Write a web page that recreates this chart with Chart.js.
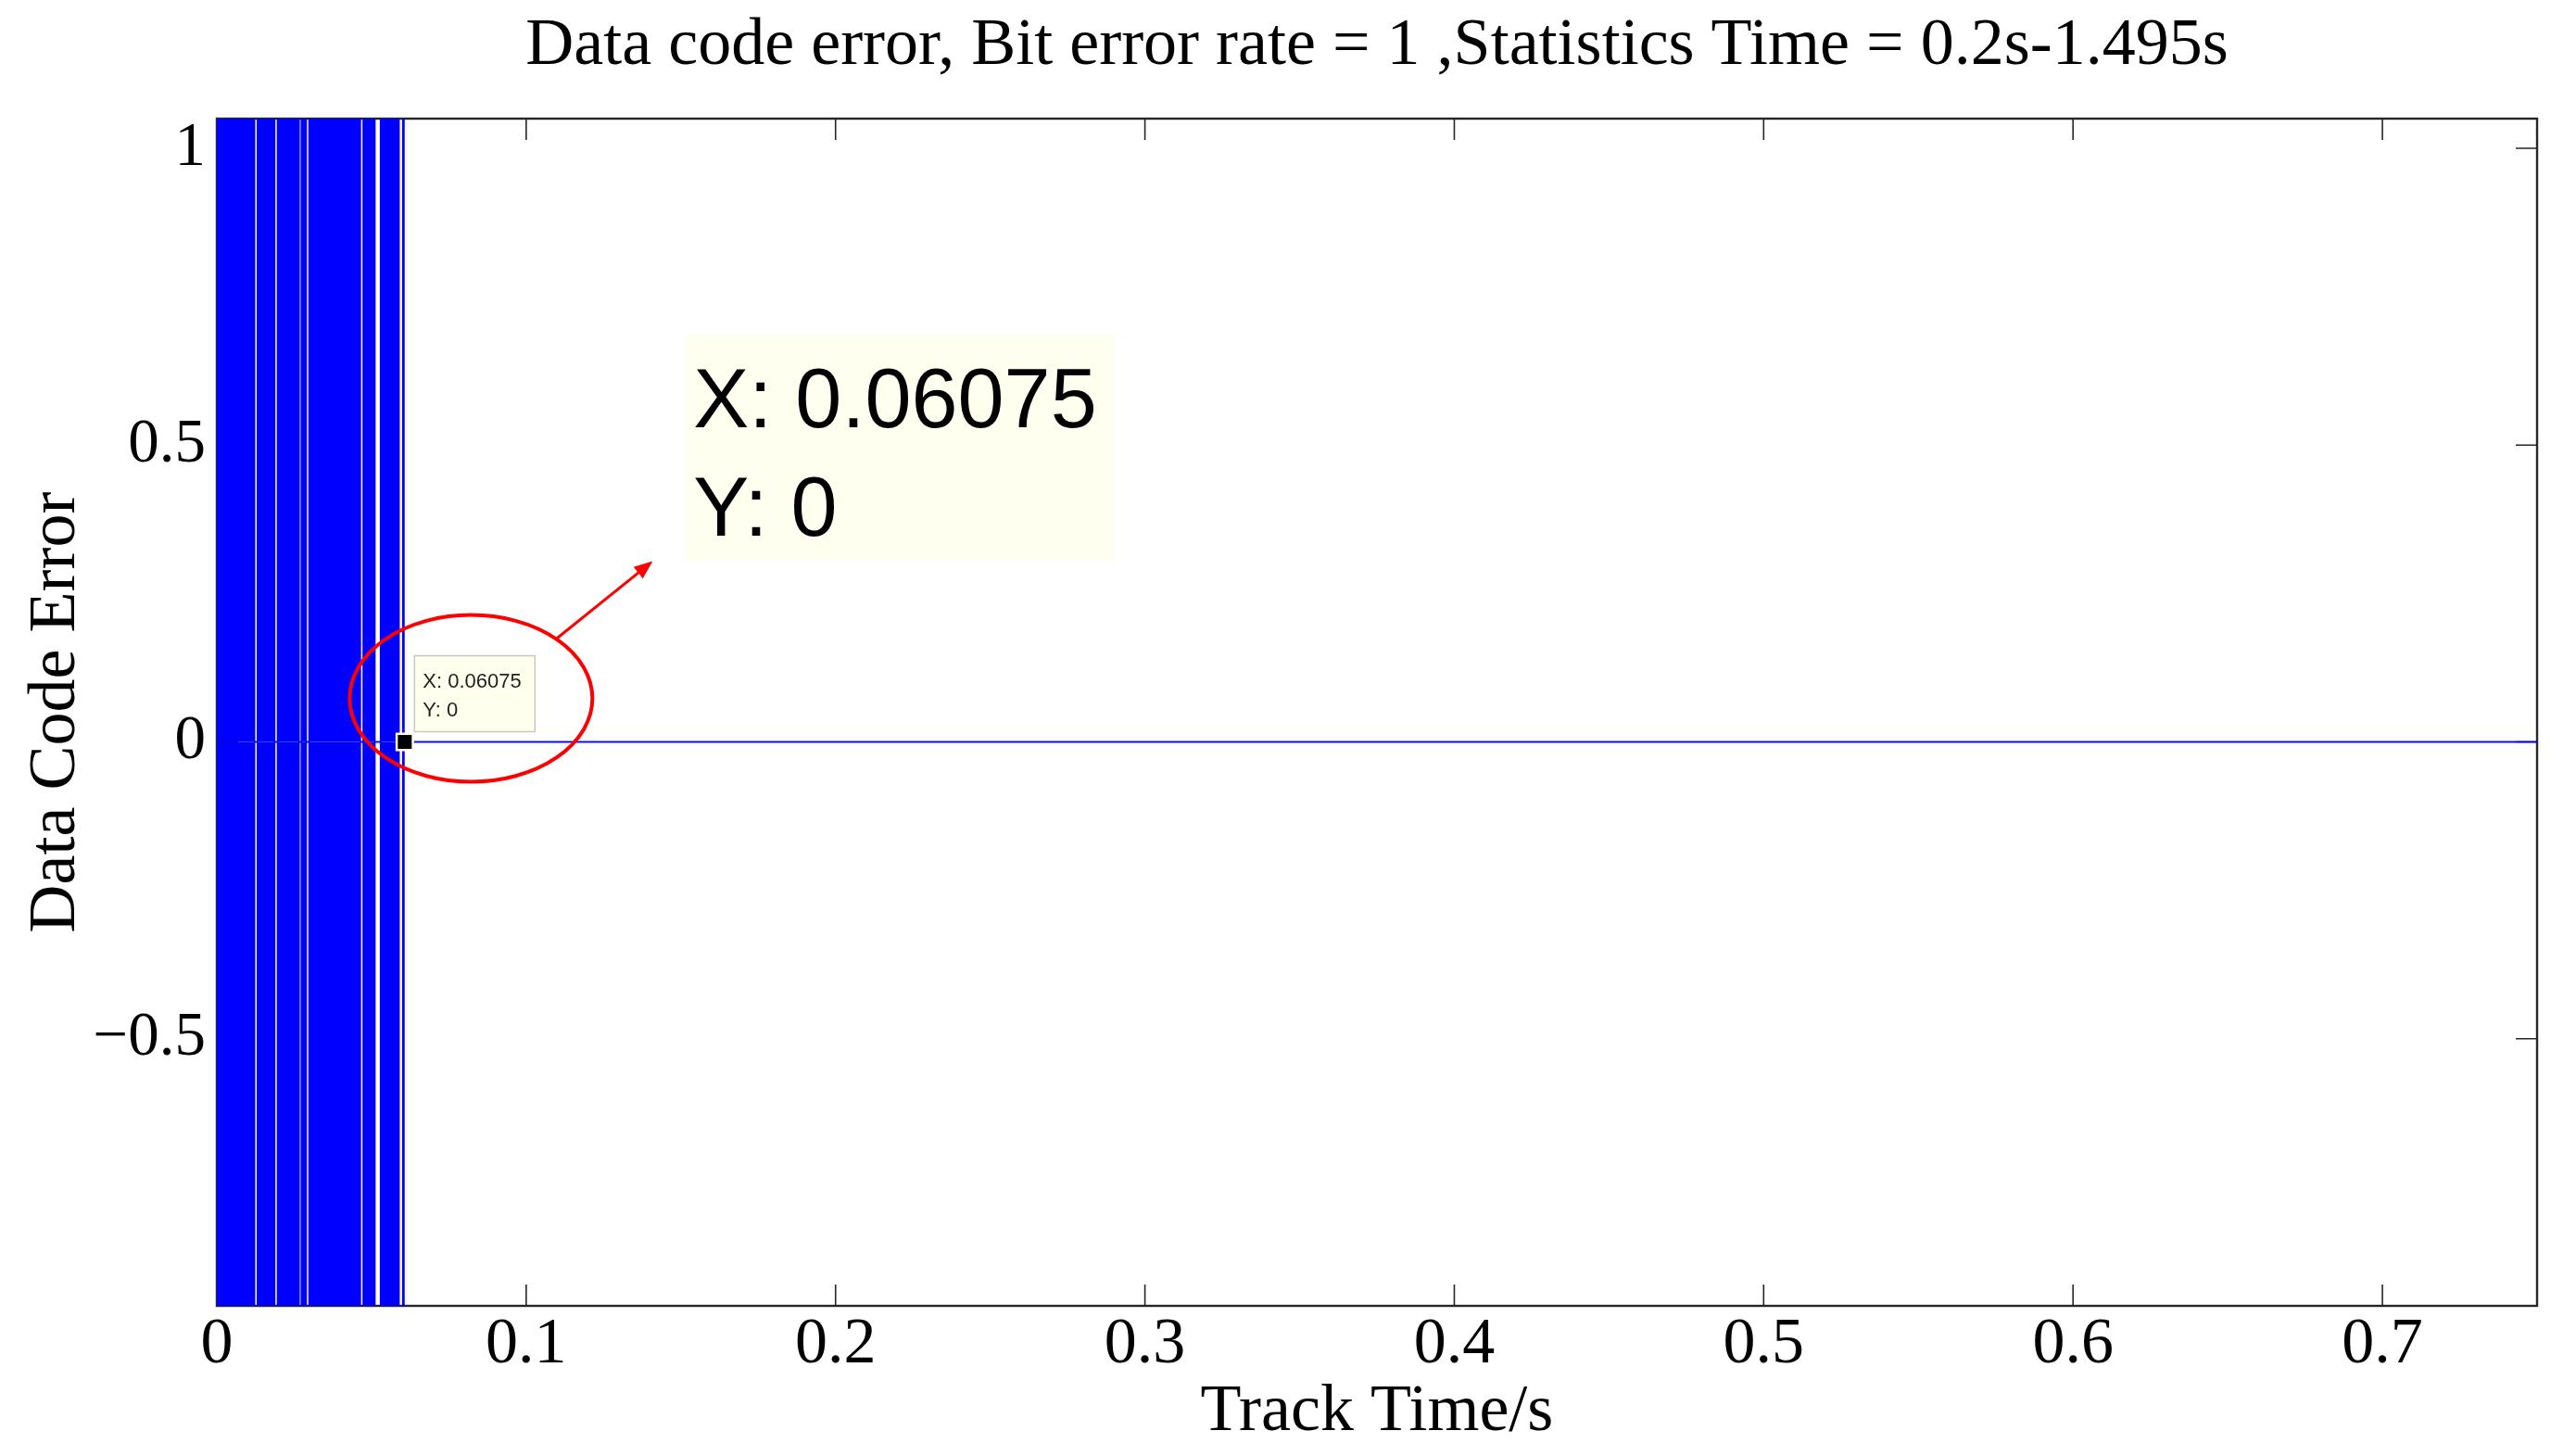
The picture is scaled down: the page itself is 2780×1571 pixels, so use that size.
<!DOCTYPE html>
<html>
<head>
<meta charset="utf-8">
<script src="https://cdn.jsdelivr.net/npm/chart.js@4.4.1/dist/chart.umd.min.js"></script>
<style>
  html, body { margin: 0; padding: 0; background: #fff; }
  #wrap { width: 2780px; height: 1571px; position: relative; }
</style>
</head>
<body>
<div id="wrap"><canvas id="errChart"></canvas></div>
<script>
const chartTitle = 'Data code error, Bit error rate = 1 ,Statistics Time = 0.2s-1.495s';
const xLabel = 'Track Time/s';
const yLabel = 'Data Code Error';

const xTicks = [0, 0.1, 0.2, 0.3, 0.4, 0.5, 0.6, 0.7];
const yTicks = [-0.5, 0, 0.5, 1];
const xRange = [0, 0.75];
const yRange = [-0.95, 1.05];

// spans where the error keeps flipping between +2 and -2 (reads as solid blue)
const burstStart = [0.0000, 0.0131, 0.0196, 0.0273, 0.0298, 0.0473, 0.0529, 0.0601];
const burstEnd   = [0.0122, 0.0187, 0.0266, 0.0289, 0.0464, 0.0511, 0.0589, 0.0605];
const burstLevel = 2;
const endTime = 0.75;

// data tip
const tipX = 0.06075;
const tipY = 0;

function envelope(sign) {
  const pts = [];
  for (let i = 0; i < burstStart.length; i++) {
    pts.push({x: burstStart[i], y: 0});
    pts.push({x: burstStart[i], y: sign * burstLevel});
    pts.push({x: burstEnd[i], y: sign * burstLevel});
    pts.push({x: burstEnd[i], y: 0});
  }
  pts.push({x: endTime, y: 0});
  return pts;
}

function tickText(v) {
  if (v < 0) return '\u2212' + Math.abs(v);
  return String(v);
}

const frame = {
  id: 'frame',
  beforeDatasetsDraw(chart) {
    const {ctx, chartArea: a, scales: {x, y}} = chart;
    ctx.save();
    ctx.strokeStyle = '#262626';
    ctx.lineWidth = 1.6;
    ctx.beginPath();
    xTicks.forEach(v => {
      const px = x.getPixelForValue(v);
      ctx.moveTo(px, a.bottom); ctx.lineTo(px, a.bottom - 23);
      ctx.moveTo(px, a.top); ctx.lineTo(px, a.top + 23);
    });
    yTicks.forEach(v => {
      const py = y.getPixelForValue(v);
      ctx.moveTo(a.left, py); ctx.lineTo(a.left + 23, py);
      ctx.moveTo(a.right, py); ctx.lineTo(a.right - 23, py);
    });
    ctx.stroke();
    ctx.lineWidth = 2.4;
    ctx.strokeRect(a.left, a.top, a.right - a.left, a.bottom - a.top);
    ctx.restore();
  },
  afterDraw(chart) {
    const {ctx, chartArea: a, scales: {x, y}} = chart;
    ctx.save();
    // title
    ctx.fillStyle = '#000';
    ctx.font = '72px "Liberation Serif"';
    ctx.textAlign = 'center';
    ctx.textBaseline = 'alphabetic';
    ctx.fillText(chartTitle, (a.left + a.right) / 2, 69);

    const px = x.getPixelForValue(tipX);
    const py = y.getPixelForValue(tipY);

    // small datatip box
    ctx.fillStyle = '#ffffee';
    ctx.strokeStyle = '#c8c8c0';
    ctx.lineWidth = 1.5;
    ctx.fillRect(px + 10.5, py - 93, 130, 82);
    ctx.strokeRect(px + 10.5, py - 93, 130, 82);
    ctx.fillStyle = '#222';
    ctx.textAlign = 'left';
    ctx.font = '22px "Liberation Sans"';
    ctx.fillText('X: ' + tipX, px + 19.5, py - 59);
    ctx.fillText('Y: ' + tipY, px + 19.5, py - 28);

    // marker
    ctx.fillStyle = '#ffffe6';
    ctx.fillRect(px - 10, py - 10, 20, 20);
    ctx.fillStyle = '#000';
    ctx.fillRect(px - 7.5, py - 7.5, 15, 15);

    // red ellipse
    ctx.strokeStyle = '#ff0000';
    ctx.lineWidth = 4;
    ctx.beginPath();
    ctx.ellipse(px + 71.5, py - 47, 131, 90, 0, 0, Math.PI * 2);
    ctx.stroke();

    // arrow
    const x0 = px + 164.5, y0 = py - 112, x1 = px + 267.5, y1 = py - 195;
    const ang = Math.atan2(y1 - y0, x1 - x0);
    ctx.lineWidth = 3;
    ctx.beginPath();
    ctx.moveTo(x0, y0);
    ctx.lineTo(x1 - 14 * Math.cos(ang), y1 - 14 * Math.sin(ang));
    ctx.stroke();
    ctx.fillStyle = '#ff0000';
    ctx.beginPath();
    ctx.moveTo(x1, y1);
    ctx.lineTo(x1 - 20 * Math.cos(ang) + 8 * Math.sin(ang), y1 - 20 * Math.sin(ang) - 8 * Math.cos(ang));
    ctx.lineTo(x1 - 20 * Math.cos(ang) - 8 * Math.sin(ang), y1 - 20 * Math.sin(ang) + 8 * Math.cos(ang));
    ctx.closePath();
    ctx.fill();

    // enlarged datatip
    ctx.fillStyle = '#fffff0';
    ctx.fillRect(px + 303.5, py - 440, 462, 245);
    ctx.fillStyle = '#000';
    ctx.font = '90px "Liberation Sans"';
    ctx.fillText('X: ' + tipX, px + 311.5, py - 340);
    ctx.fillText('Y: ' + tipY, px + 311.5, py - 223);
    ctx.restore();
  }
};

const serif = 'Liberation Serif';

new Chart(document.getElementById('errChart'), {
  type: 'line',
  data: {
    datasets: [
      {
        data: envelope(1),
        borderColor: '#0000ff',
        backgroundColor: '#0000ff',
        borderWidth: 1.5,
        pointRadius: 0,
        fill: 'origin'
      },
      {
        data: envelope(-1),
        borderColor: '#0000ff',
        backgroundColor: '#0000ff',
        borderWidth: 1.5,
        pointRadius: 0,
        fill: 'origin'
      }
    ]
  },
  options: {
    responsive: true,
    maintainAspectRatio: false,
    animation: false,
    events: [],
    layout: { padding: { top: 128, right: 42, left: 2, bottom: 0 } },
    plugins: {
      legend: { display: false },
      tooltip: { enabled: false },
      title: { display: false }
    },
    scales: {
      x: {
        type: 'linear',
        min: xRange[0],
        max: xRange[1],
        afterBuildTicks: s => { s.ticks = xTicks.map(v => ({value: v})); },
        afterFit: s => { s.height = 162; },
        grid: { display: false, drawTicks: false },
        border: { display: false },
        ticks: {
          padding: 1,
          color: '#000',
          font: { family: serif, size: 70 },
          callback: v => tickText(v)
        },
        title: {
          display: true,
          text: xLabel,
          color: '#000',
          font: { family: serif, size: 72 },
          padding: { top: 0, bottom: 4 }
        }
      },
      y: {
        type: 'linear',
        min: yRange[0],
        max: yRange[1],
        afterBuildTicks: s => { s.ticks = yTicks.map(v => ({value: v})); },
        afterFit: s => { s.width = 232; },
        grid: { display: false, drawTicks: false },
        border: { display: false },
        ticks: {
          padding: 12,
          color: '#000',
          font: { family: serif, size: 67 },
          callback: v => tickText(v)
        },
        title: {
          display: true,
          text: yLabel,
          color: '#000',
          font: { family: serif, size: 72 },
          padding: { top: 16, bottom: 0 }
        }
      }
    }
  },
  plugins: [frame]
});
</script>
</body>
</html>
